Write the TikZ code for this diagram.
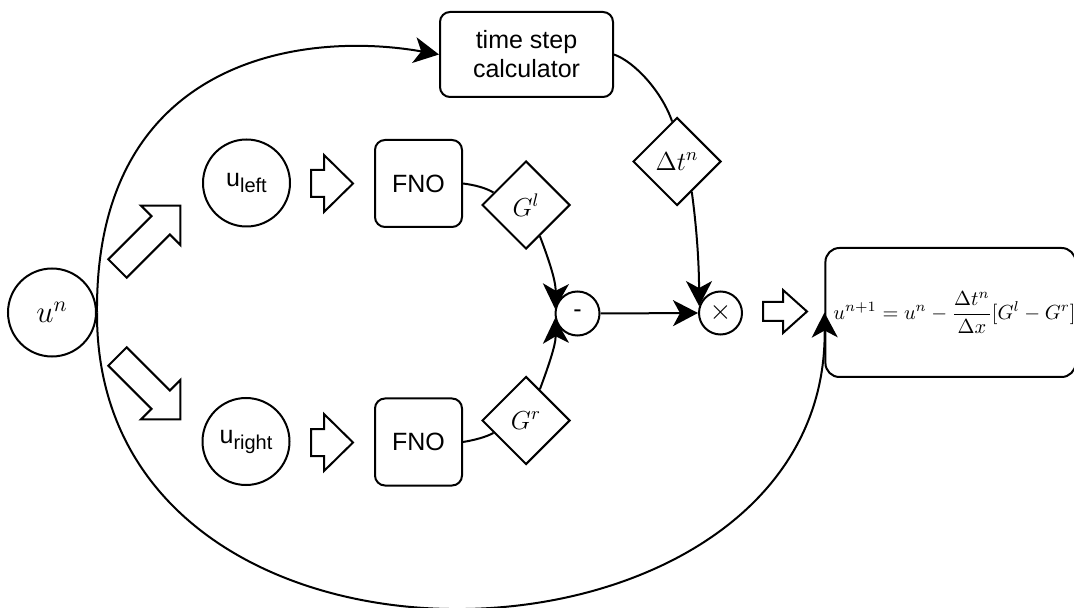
\RequirePackage{fix-cm}
\documentclass[tikz,border=0pt]{standalone}
\usepackage{amsmath}
\usepackage[no-math]{fontspec}
\newfontfamily\arialf{Liberation Sans}
\usetikzlibrary{shapes.geometric,arrows.meta}
\tikzset{
  base/.style={draw, line width=1pt, inner sep=0pt, fill=white},
  circ/.style={base, circle},
  rbox/.style={base, rounded corners=5pt},
  dia/.style={base, diamond, aspect=1},
  sans/.style={font=\arialf\fontsize{12.5}{14.5}\selectfont},
  link/.style={line width=1pt},
  arr/.style={link, -{Stealth[length=12.5pt,width=13pt,inset=3.5pt]}},
  blockstyle/.style={draw, line width=1pt, line join=miter, fill=white},
  pics/barrow/.style n args={4}{code={
    \draw[blockstyle] ({-#1/2},{-#2/2}) -- ({#1/2-#4},{-#2/2}) -- ({#1/2-#4},{-#3/2})
      -- ({#1/2},0pt) -- ({#1/2-#4},{#3/2}) -- ({#1/2-#4},{#2/2}) -- ({-#1/2},{#2/2}) -- cycle;
  }},
}
\begin{document}
\begin{tikzpicture}[x=0.5pt,y=-0.5pt]
\useasboundingbox (0,0) rectangle (1074,608);
% nodes
\node[circ, minimum size=44pt, font=\fontsize{15.5}{18}\selectfont] (un) at (52,312.5) {$u^n$};
\node[rbox, sans, align=center, minimum width=86.5pt, minimum height=42.5pt] (tsc) at (526.5,54.5) {time step\\calculator};
\node[circ, minimum size=43.5pt, sans] (ul) at (246.5,183) {u\raisebox{-3pt}{\fontsize{10}{12}\selectfont left}};
\node[circ, minimum size=43.5pt, sans] (ur) at (246,441.5) {u\raisebox{-3pt}{\fontsize{10}{12}\selectfont right}};
\node[rbox, sans, minimum size=43.5pt] (fno1) at (418.5,183.5) {FNO};
\node[rbox, sans, minimum size=43.5pt] (fno2) at (418.5,442) {FNO};
\node[dia, minimum width=44pt, minimum height=44pt, font=\fontsize{13}{15}\selectfont] (gl) at (526,205) {$G^l$};
\node[dia, minimum width=44pt, minimum height=44pt, font=\fontsize{13}{15}\selectfont] (gr) at (526,420.5) {$G^r$};
\node[dia, minimum width=44pt, minimum height=44pt, font=\fontsize{13}{15}\selectfont] (dt) at (677,161.5) {$\Delta t^n$};
\node[circ, minimum size=22pt, sans] (minus) at (577.5,313.5) {-};
\node[circ, minimum size=21.5pt, font=\fontsize{14}{16}\selectfont] (times) at (720.5,313) {$\times$};
\node[rbox, rounded corners=7pt, minimum width=122.5pt, minimum height=64.5pt, font=\fontsize{10.2}{12}\selectfont] (fb) at (950.5,312.5) {\hspace*{4pt}$u^{n+1}=u^n-\dfrac{\Delta t^n}{\Delta x}[G^l-G^r]$};
% block arrows
\pic[rotate=45] (bne) at (149,237) {barrow={44.5pt}{13pt}{28pt}{14pt}};
\pic[rotate=-45] (bse) at (149,388) {barrow={44.5pt}{13pt}{28pt}{14pt}};
\pic (bl) at (332,183.5) {barrow={21pt}{13.5pt}{28.5pt}{14.5pt}};
\pic (br) at (332,442.5) {barrow={21pt}{13.5pt}{28.5pt}{14.5pt}};
\pic (bx) at (785,311.5) {barrow={22pt}{9.5pt}{21.5pt}{12pt}};
% connectors
\draw[arr] (un.east) .. controls (95,60) and (300,30) .. (tsc.west);
\draw[arr] (un.east) .. controls (95,720) and (829,690) .. (fb.west);
\draw[link] (tsc.east) .. controls (635,62) and (662,92) .. (dt.97);
\draw[arr] (dt.-64) .. controls (697,230) and (699,265) .. (times.162);
\draw[link] (fno1.east) .. controls (475,185) and (486,188) .. (gl.159);
\draw[link] (fno2.east) .. controls (475,440) and (486,437) .. (gr.201);
\draw[arr] (gl.-66) .. controls (547,255) and (556,280) .. (minus.168);
\draw[arr] (gr.66) .. controls (547,370) and (556,345) .. (minus.192);
\draw[arr] (minus.east) -- (times.west);
\end{tikzpicture}
\end{document}
